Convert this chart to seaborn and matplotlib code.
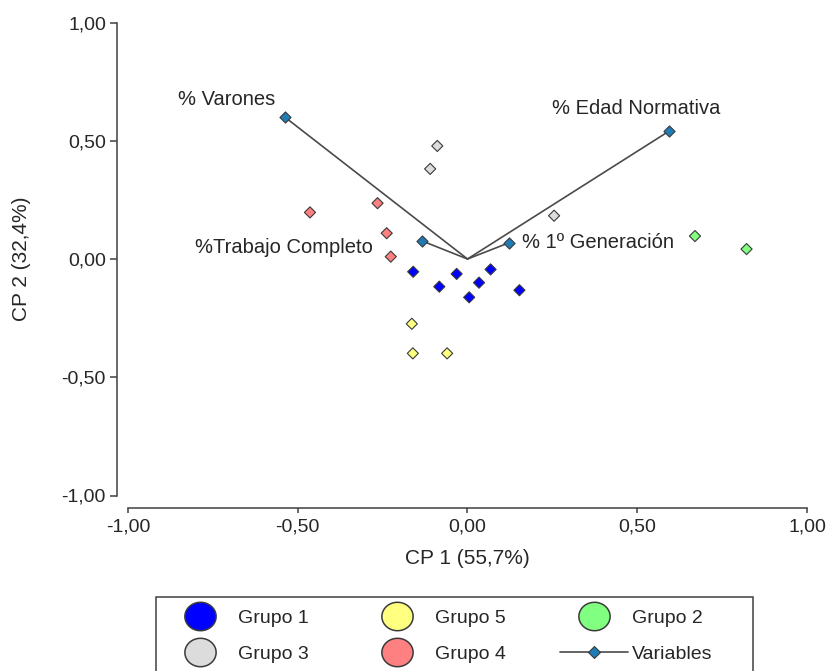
import numpy as np
import pandas as pd
import matplotlib
matplotlib.use("Agg")
import matplotlib.pyplot as plt
import seaborn as sns
from matplotlib.lines import Line2D
from matplotlib.patches import Rectangle
from matplotlib.path import Path
from matplotlib.ticker import FuncFormatter

# === Individual scores (CP 1, CP 2) ===
pc1 = [-0.160, -0.032, 0.068, -0.083, 0.034, 0.005, 0.153,
       -0.164, -0.161, -0.060,
       0.670, 0.822,
       -0.089, -0.110, 0.255,
       -0.464, -0.265, -0.238, -0.226]
pc2 = [-0.054, -0.063, -0.044, -0.117, -0.100, -0.162, -0.132,
       -0.274, -0.399, -0.399,
       0.097, 0.042,
       0.478, 0.381, 0.183,
       0.197, 0.236, 0.109, 0.010]
grupo = ["Grupo 1", "Grupo 1", "Grupo 1", "Grupo 1", "Grupo 1", "Grupo 1", "Grupo 1",
         "Grupo 5", "Grupo 5", "Grupo 5",
         "Grupo 2", "Grupo 2",
         "Grupo 3", "Grupo 3", "Grupo 3",
         "Grupo 4", "Grupo 4", "Grupo 4", "Grupo 4"]

# === Variable loadings ===
var_names = ["% Varones", "% Edad Normativa", "%Trabajo Completo", "% 1º Generación"]
var_pc1 = [-0.538, 0.594, -0.135, 0.123]
var_pc2 = [0.600, 0.541, 0.077, 0.069]

ticks = [-1.0, -0.5, 0.0, 0.5, 1.0]

# === Style ===
palette = {
    "Grupo 1": "#0000ff",
    "Grupo 5": "#ffff80",
    "Grupo 2": "#80ff80",
    "Grupo 3": "#dcdcdc",
    "Grupo 4": "#ff8080",
}
var_color = "#1f7bb6"
edge = "#3a3a3a"
txt = "#262626"
spine_c = "#404040"

sns.set_theme(style="white")
plt.rcParams["font.family"] = ["Liberation Sans", "DejaVu Sans"]
plt.rcParams["text.color"] = txt

W, H = 829, 671
PT = 72 / 100  # points per pixel at dpi 100
fig = plt.figure(figsize=(W / 100, H / 100), dpi=100)
# axes box = data range -1..1 in both directions
ax = fig.add_axes([128 / W, 1 - 495.5 / H, 679 / W, 473 / H])

df = pd.DataFrame({"pc1": pc1, "pc2": pc2, "grupo": grupo})
vars_df = pd.DataFrame({"pc1": var_pc1, "pc2": var_pc2, "name": var_names})

# vectors from origin
for x, y in zip(var_pc1, var_pc2):
    ax.plot([0, x], [0, y], color="#4a4a4a", lw=1.2, zorder=2)

sns.scatterplot(data=df, x="pc1", y="pc2", hue="grupo", palette=palette,
                marker="D", s=32, edgecolor=edge, linewidth=0.8,
                legend=False, zorder=3, ax=ax)
sns.scatterplot(data=vars_df, x="pc1", y="pc2", color=var_color,
                marker="D", s=32, edgecolor=edge, linewidth=0.8,
                legend=False, zorder=4, ax=ax)

# variable labels (offsets in points)
label_style = {
    "% Varones": ((-7, 13), "right"),
    "% Edad Normativa": ((-24, 16), "center"),
    "%Trabajo Completo": ((-35, -4.5), "right"),
    "% 1º Generación": ((9, 0), "left"),
}
for name, x, y in zip(var_names, var_pc1, var_pc2):
    off, ha = label_style[name]
    ax.annotate(name, (x, y), xytext=off, textcoords="offset points",
                ha=ha, va="center", fontsize=14.5, color=txt)

# === Axes ===
ax.set_xlim(-1, 1)
ax.set_ylim(-1, 1)
ax.set_xticks(ticks)
ax.set_yticks(ticks)
fmt = FuncFormatter(lambda v, p: f"{v:.2f}".replace(".", ","))
ax.xaxis.set_major_formatter(fmt)
ax.yaxis.set_major_formatter(fmt)

for s in ["top", "right"]:
    ax.spines[s].set_visible(False)
ax.spines["left"].set_position(("outward", 11 * PT))
ax.spines["bottom"].set_position(("outward", 12.5 * PT))
for s in ["left", "bottom"]:
    ax.spines[s].set_color(spine_c)
    ax.spines[s].set_linewidth(1.1)

ax.tick_params(axis="x", direction="out", length=3.6, width=1.1, color=spine_c,
               labelsize=14, labelcolor=txt, pad=4, bottom=True)
ax.tick_params(axis="y", direction="out", length=5, width=1.1, color=spine_c,
               labelsize=14, labelcolor=txt, pad=3, left=True)

ax.set_xlabel("CP 1 (55,7%)", fontsize=15, color=txt)
ax.set_ylabel("CP 2 (32,4%)", fontsize=15, color=txt)
ax.xaxis.set_label_coords(0.5, (495.5 - 549) / 473)
ax.yaxis.set_label_coords((31 - 128) / 679, 0.5)

# === Legend (frame drawn separately, bottom runs off the figure) ===
t = np.linspace(0, 2 * np.pi, 80)
ellipse = Path(np.column_stack([1.1 * np.cos(t), np.sin(t)]))

order = ["Grupo 1", "Grupo 3", "Grupo 5", "Grupo 4", "Grupo 2"]
handles, labels = [], []
for g in order:
    handles.append(Line2D([], [], ls="", marker=ellipse, ms=22.5,
                          mfc=palette[g], mec=edge, mew=1.1))
    labels.append(g)
handles.append(Line2D([], [], color="#4a4a4a", lw=1.2, marker="D", ms=6,
                      mfc=var_color, mec=edge, mew=0.8))
labels.append("Variables")

fig.legend(handles, labels, loc="upper left", bbox_to_anchor=(166 / W, 1 - 609 / H),
           ncol=3, frameon=False, fontsize=14, handlelength=3.5, handletextpad=0.2,
           columnspacing=2.8, labelspacing=0.95, borderpad=0, borderaxespad=0,
           labelcolor=txt)
fig.patches.append(Rectangle((156 / W, 1 - 720 / H), 597 / W, 123 / H,
                             transform=fig.transFigure, fill=False,
                             edgecolor=spine_c, lw=1.1))

fig.savefig("out.png", dpi=100)
